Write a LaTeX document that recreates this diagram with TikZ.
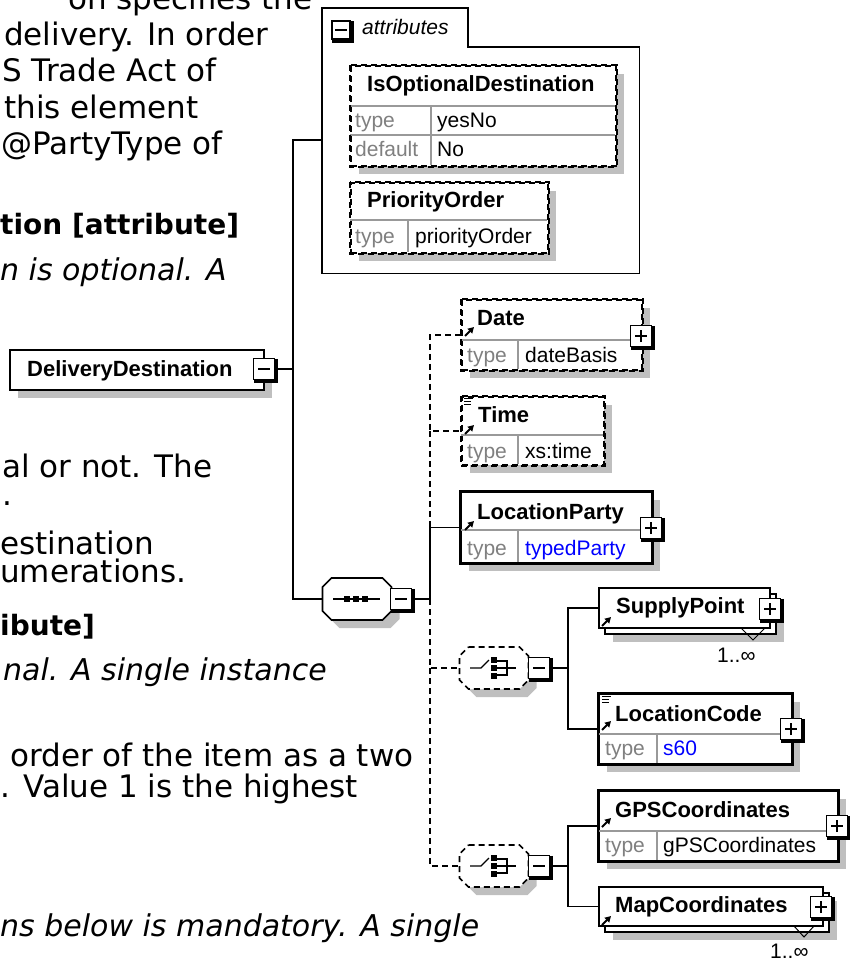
\documentclass[tikz,border=0pt]{standalone}
\usepackage{fontspec}
\setmainfont{Liberation Sans}
\newfontfamily\docfont{DejaVu Sans}
\usetikzlibrary{arrows.meta}
\usetikzlibrary{shadows}
\usetikzlibrary{positioning}

\tikzset{
    elem/.style={draw, line width=1.7pt, fill=white, inner sep=0pt, anchor=north west},
    optdash/.style={dash pattern=on 6pt off 4pt},
    shaded/.style={drop shadow={shadow xshift=8pt, shadow yshift=-8pt, fill=black!25, opacity=1}},
    divider/.style={draw=black!40, line width=1.3pt},
    ename/.style={font=\fontsize{22}{26}\selectfont\bfseries, anchor=base west, inner sep=0pt},
    tlabel/.style={font=\fontsize{21}{25}\selectfont, text=black!50, anchor=base west, inner sep=0pt},
    tvalue/.style={font=\fontsize{21}{25}\selectfont, anchor=base west, inner sep=0pt},
    conn/.style={line width=1.7pt},
    optconn/.style={conn, optdash},
    toggle/.style={draw, fill=white, line width=1.5pt, minimum size=21pt, inner sep=0pt},
    compbox/.style={inner sep=0pt, minimum width=69pt, minimum height=42pt},
    doc/.style={font=\docfont\fontsize{31}{37}\selectfont, anchor=base west, inner sep=0pt},
    dochead/.style={doc, font=\docfont\fontsize{28}{34}\selectfont\bfseries},
    docnote/.style={doc, font=\docfont\fontsize{30}{36}\selectfont\itshape},
    refarrow/.style={-{Triangle[length=6pt, width=6.5pt]}, line width=2pt},
}

% plus / minus box with the heavy right and bottom edge
\newcommand{\togglemark}[2]{%
    \draw [line width=3pt] ([xshift=1.5pt, yshift=-1pt]#1.north east) -- ([xshift=1.5pt, yshift=-1.5pt]#1.south east) -- ([xshift=1pt, yshift=-1.5pt]#1.south west);
    \draw [line width=1.5pt] ([xshift=-6pt]#1.center) -- ([xshift=6pt]#1.center);
    \ifnum#2=1 \draw [line width=1.5pt] ([yshift=-6pt]#1.center) -- ([yshift=6pt]#1.center); \fi
}

% octagon of a compositor, drawn round its node
\newcommand{\compoctagon}[2]{%
    \begin{scope}[shift={(#1.center)}]
        \fill [black!25, shift={(8,8)}] (-25.5,-21) -- (25.5,-21) -- (34.5,-12) -- (34.5,12) -- (25.5,21) -- (-25.5,21) -- (-34.5,12) -- (-34.5,-12) -- cycle;
        \draw [#2, fill=white, line width=1.7pt] (-25.5,-21) -- (25.5,-21) -- (34.5,-12) -- (34.5,12) -- (25.5,21) -- (-25.5,21) -- (-34.5,12) -- (-34.5,-12) -- cycle;
    \end{scope}
}

\begin{document}
\begin{tikzpicture}[x=1pt, y=-1pt]
    % Canvas
    \useasboundingbox (0,0) rectangle (850,963);
    \clip (0,0) rectangle (850,963);

    % ---- Page text behind the diagram ----
    \node [doc] (doc1) at (68,10) {on specifies the};
    \node [doc] (doc2) at (4,46) {delivery. In order};
    \node [doc] (doc3) at (2,82) {S Trade Act of};
    \node [doc] (doc4) at (4,118) {this element};
    \node [doc] (doc5) at (1,154) {@PartyType of};
    \node [dochead] (doc6) at (0,234) {tion [attribute]};
    \node [docnote] (doc7) at (0,280) {n is optional. A};
    \node [doc] (doc8) at (2,477) {al or not. The};
    \node [doc] (doc9) at (2,505) {.};
    \node [doc] (doc10) at (0,554) {estination};
    \node [doc] (doc11) at (0,582) {umerations.};
    \node [dochead] (doc12) at (0,635) {ibute]};
    \node [docnote] (doc13) at (3,680) {nal. A single instance};
    \node [doc] (doc14) at (10,766) {order of the item as a two};
    \node [doc] (doc15) at (0,797) {. Value 1 is the highest};
    \node [docnote] (doc16) at (0,936) {ns below is mandatory. A single};

    % ---- Root element ----
    \node [elem, shaded, minimum width=254pt, minimum height=40pt] (dd) at (9,349) {};
    \node [ename] (ddname) at (27,376) {DeliveryDestination};
    \node [toggle] (ddtog) at (264,369) {};
    \togglemark{ddtog}{0}

    % ---- Attributes ----
    \node [inner sep=0pt, minimum width=317pt, minimum height=226pt, anchor=north west] (attrs) at (322,47) {};
    \draw [line width=1.7pt] (attrs.south west) -- (322,8) -- (468,8) -- (468,47) -- (attrs.north east) -- (attrs.south east) -- cycle;
    \node [toggle, minimum size=18pt] (attrtog) at (341,30) {};
    \togglemark{attrtog}{0}
    \node [font=\fontsize{21}{25}\selectfont\itshape, anchor=base west, inner sep=0pt] (attrlabel) at (362,35) {attributes};

    \node [elem, optdash, shaded, minimum width=265pt, minimum height=100pt] (isopt) at (350,65) {};
    \draw [divider] (350,106) -- (615,106);
    \draw [divider] (350,135) -- (615,135);
    \draw [divider] (431,106) -- (431,165);
    \draw [optdash, line width=1.7pt] (isopt.north west) rectangle (isopt.south east);
    \node [ename] (isoptname) at (367,92) {IsOptionalDestination};
    \node [tlabel] (isopttype) at (355,128) {type};
    \node [tvalue] (isoptval) at (437,128) {yesNo};
    \node [tlabel] (isoptdef) at (355,157) {default};
    \node [tvalue] (isoptdefval) at (437,157) {No};

    \node [elem, optdash, shaded, minimum width=197pt, minimum height=70pt] (prio) at (350,182) {};
    \draw [divider] (350,220) -- (547,220);
    \draw [divider] (408,220) -- (408,252);
    \draw [optdash, line width=1.7pt] (prio.north west) rectangle (prio.south east);
    \node [ename] (prioname) at (367,207) {PriorityOrder};
    \node [tlabel] (priotype) at (355,243) {type};
    \node [tvalue] (prioval) at (415,243) {priorityOrder};

    % ---- Sequence ----
    \node [compbox] (seq) at (357,599) {};
    \compoctagon{seq}{solid}
    \draw [line width=1.5pt] (333,599) -- (380,599);
    \fill (344,596) rectangle (350,602);
    \fill (353,596) rectangle (359,602);
    \fill (362,596) rectangle (368,602);
    \node [toggle] (seqtog) at (401,599) {};
    \togglemark{seqtog}{0}

    % Connectors of the root
    \coordinate (jDD) at (293,369);
    \coordinate (attrsIn) at ([yshift=-93pt]attrs.north west);
    \draw [conn] (ddtog.east) -- (jDD);
    \draw [conn] (attrsIn) -| (jDD) |- (seq.west);

    % ---- Children of the sequence ----
    \node [elem, optdash, shaded, minimum width=180pt, minimum height=70pt] (date) at (461,299) {};
    \draw [divider] (461,340) -- (641,340);
    \draw [divider] (518,340) -- (518,369);
    \draw [optdash, line width=1.7pt] (date.north west) rectangle (date.south east);
    \draw [refarrow] (465,336) -- (474,327);
    \node [ename] (datename) at (477,325) {Date};
    \node [tlabel] (datetype) at (467,362) {type};
    \node [tvalue] (dateval) at (525,362) {dateBasis};
    \node [toggle] (datetog) at (641,336) {};
    \togglemark{datetog}{1}

    \node [elem, optdash, shaded, minimum width=142pt, minimum height=68pt] (time) at (461,396) {};
    \draw [divider] (461,435) -- (603,435);
    \draw [divider] (518,435) -- (518,464);
    \draw [optdash, line width=1.7pt] (time.north west) rectangle (time.south east);
    \draw [line width=1pt] (464,398) -- (473,398) (464,401) -- (471,401) (464,404) -- (471,404);
    \draw [refarrow] (465,434) -- (474,425);
    \node [ename] (timename) at (478,422) {Time};
    \node [tlabel] (timetype) at (467,458) {type};
    \node [tvalue] (timeval) at (525,458) {xs:time};

    \node [elem, shaded, minimum width=191pt, minimum height=71pt] (lp) at (460,491) {};
    \draw [divider] (460,530) -- (651,530);
    \draw [divider] (518,530) -- (518,562);
    \draw [line width=1.7pt] (lp.north west) rectangle (lp.south east);
    \draw [refarrow] (465,530) -- (474,521);
    \node [ename] (lpname) at (477,519) {LocationParty};
    \node [tlabel] (lptype) at (467,555) {type};
    \node [tvalue, text=blue] (lpval) at (525,555) {typedParty};
    \node [toggle] (lptog) at (651,528) {};
    \togglemark{lptog}{1}

    % First choice
    \node [compbox] (chA) at (494,668) {};
    \compoctagon{chA}{optdash}
    \draw [line width=1.3pt] (470,668) -- (481,668) -- (489,660);
    \fill (491,657) rectangle (497,663);
    \fill (491,665) rectangle (497,671);
    \fill (491,673) rectangle (497,679);
    \draw [line width=1.3pt] (497,661) -- (507,661) -- (507,675) -- (497,675) (497,668) -- (516,668);
    \node [toggle] (chAtog) at (539,668) {};
    \togglemark{chAtog}{0}

    % Second choice
    \node [compbox] (chB) at (494,866) {};
    \compoctagon{chB}{optdash}
    \draw [line width=1.3pt] (470,866) -- (481,866) -- (489,858);
    \fill (491,855) rectangle (497,861);
    \fill (491,863) rectangle (497,869);
    \fill (491,871) rectangle (497,877);
    \draw [line width=1.3pt] (497,859) -- (507,859) -- (507,873) -- (497,873) (497,866) -- (516,866);
    \node [toggle] (chBtog) at (539,866) {};
    \togglemark{chBtog}{0}

    % Connectors of the sequence
    \coordinate (jSeq) at (430,599);
    \draw [conn] (seqtog.east) -- (jSeq);
    \draw [optconn] (date.west) -| (jSeq |- time.west) -- (time.west);
    \draw [optconn] (jSeq |- time.west) -- (jSeq |- lp.west);
    \draw [conn] (lp.west) -| (jSeq);
    \draw [optconn] (jSeq) |- (chA.west);
    \draw [optconn] (jSeq |- chA.west) |- (chB.west);

    % ---- Children of the first choice ----
    \node [elem, shaded, minimum width=171pt, minimum height=40pt] (spback) at (604,593) {};
    \node [elem, minimum width=171pt, minimum height=40pt] (sp) at (598,587) {};
    \draw [refarrow] (602,626) -- (611,617);
    \node [ename] (spname) at (616,613) {SupplyPoint};
    \node [toggle] (sptog) at (770,609) {};
    \togglemark{sptog}{1}
    \draw [line width=1pt] (741,628) -- (753,640) -- (765,628);
    \node [tvalue] (spocc) at (717,662) {1..∞};

    \node [elem, shaded, minimum width=193pt, minimum height=70pt] (lc) at (598,693) {};
    \draw [divider] (598,734) -- (791,734);
    \draw [divider] (657,734) -- (657,763);
    \draw [line width=1.7pt] (lc.north west) rectangle (lc.south east);
    \draw [line width=1pt] (602,696) -- (611,696) (602,699) -- (609,699) (602,702) -- (609,702);
    \draw [refarrow] (602,730) -- (611,721);
    \node [ename] (lcname) at (615,721) {LocationCode};
    \node [tlabel] (lctype) at (605,755) {type};
    \node [tvalue, text=blue] (lcval) at (663,755) {s60};
    \node [toggle] (lctog) at (791,729) {};
    \togglemark{lctog}{1}

    \coordinate (jA) at (568,668);
    \draw [conn] (chAtog.east) -- (jA);
    \draw [conn] (sp.west) -| (jA) |- (lc.west);

    % ---- Children of the second choice ----
    \node [elem, shaded, minimum width=239pt, minimum height=70pt] (gps) at (598,790) {};
    \draw [divider] (598,831) -- (837,831);
    \draw [divider] (657,831) -- (657,860);
    \draw [line width=1.7pt] (gps.north west) rectangle (gps.south east);
    \draw [refarrow] (602,827) -- (611,818);
    \node [ename] (gpsname) at (615,817) {GPSCoordinates};
    \node [tlabel] (gpstype) at (605,852) {type};
    \node [tvalue] (gpsval) at (663,852) {gPSCoordinates};
    \node [toggle] (gpstog) at (837,826) {};
    \togglemark{gpstog}{1}

    \node [elem, shaded, minimum width=224pt, minimum height=39pt] (mcback) at (604,892) {};
    \node [elem, minimum width=224pt, minimum height=39pt] (mc) at (598,886) {};
    \draw [refarrow] (602,925) -- (611,916);
    \node [ename] (mcname) at (615,912) {MapCoordinates};
    \node [toggle] (mctog) at (821,907) {};
    \togglemark{mctog}{1}
    \draw [line width=1pt] (794,926) -- (804,937) -- (814,926);
    \node [tvalue] (mcocc) at (770,958) {1..∞};

    \coordinate (jB) at (568,866);
    \draw [conn] (chBtog.east) -- (jB);
    \draw [conn] (gps.west) -| (jB) |- (mc.west);
\end{tikzpicture}
\end{document}
